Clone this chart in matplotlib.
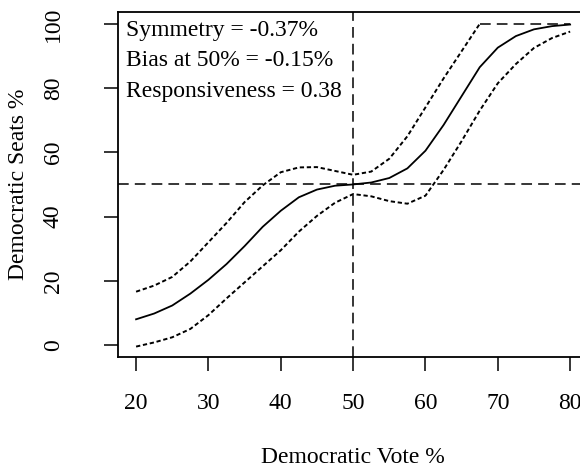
import numpy as np
import matplotlib
matplotlib.use("Agg")
import matplotlib.pyplot as plt

plt.rcParams['font.family'] = ['Liberation Serif', 'DejaVu Serif']

# seats-votes curve
vote = [20, 22.5, 25, 27.5, 30, 32.5, 35, 37.5, 40, 42.5, 45, 47.5, 50,
        52.5, 55, 57.5, 60, 62.5, 65, 67.5, 70, 72.5, 75, 77.5, 80]
seats = [8.0, 9.8, 12.3, 16.0, 20.3, 25.2, 30.8, 36.8, 41.8, 46.0, 48.4, 49.6, 50.0,
         50.6, 52.0, 55.0, 60.5, 68.5, 77.5, 86.5, 92.6, 96.2, 98.3, 99.3, 99.8]
upper = [16.6, 18.5, 21.2, 26.0, 32.0, 38.0, 44.5, 49.7, 53.8, 55.3, 55.4, 54.2, 53.0,
         54.0, 58.0, 65.0, 74.0, 83.0, 91.5, 100, 100, 100, 100, 100, 100]
lower = [-0.5, 0.8, 2.4, 5.0, 9.3, 14.5, 19.5, 24.5, 29.5, 35.3, 40.2, 44.3, 47.0,
         46.3, 44.8, 44.0, 46.5, 54.5, 63.5, 73.0, 81.5, 87.5, 92.5, 95.6, 97.6]

stats = ["Symmetry = -0.37%", "Bias at 50% = -0.15%", "Responsiveness = 0.38"]
xticks = [20, 30, 40, 50, 60, 70, 80]
yticks = [0, 20, 40, 60, 80, 100]

vote = np.array(vote)
upper = np.array(upper)

fig = plt.figure(figsize=(5.8, 4.68), dpi=100)
# the right edge of the box falls outside the picture, as in the original
ax = fig.add_axes([118 / 580, 111 / 468, 469 / 580, 345 / 468])

dot = (0, (2.2, 1.4))
dash = (0, (7, 4))

ax.plot(vote, seats, color='k', lw=1.3)
# interval lines: jittery part dotted, capped part at 100 plain dashed
cap = upper >= 100
first = np.argmax(cap)
ax.plot(vote[:first + 1], upper[:first + 1], color='k', lw=1.4, linestyle=dot)
ax.plot(vote[first:], upper[first:], color='k', lw=1.1, linestyle=dash)
ax.plot(vote, lower, color='k', lw=1.4, linestyle=dot)

ax.axhline(50, color='k', lw=1.1, linestyle=dash)
ax.axvline(50, color='k', lw=1.1, linestyle=dash)

ax.set_xlim(17.5, 82.33)
ax.set_ylim(-3.74, 103.7)
ax.set_xticks(xticks)
ax.set_yticks(yticks)
ax.tick_params(direction='out', length=10, width=1.1, labelsize=17)
ax.tick_params(axis='x', pad=16)
ax.tick_params(axis='y', pad=29)
for lab in ax.get_yticklabels():
    lab.set_rotation(90)
    lab.set_va('center')
for s in ax.spines.values():
    s.set_linewidth(1.3)

for i, t in enumerate(stats):
    ax.text(0.018, 0.945 - i * 0.087, t, transform=ax.transAxes,
            fontsize=17, ha='left', va='center')

ax.set_xlabel("Democratic Vote %", fontsize=17)
ax.set_ylabel("Democratic Seats %", fontsize=17)
ax.xaxis.set_label_coords(0.5, -0.262)
ax.yaxis.set_label_coords(-0.19, 0.5)

fig.savefig("out.png", dpi=100)
